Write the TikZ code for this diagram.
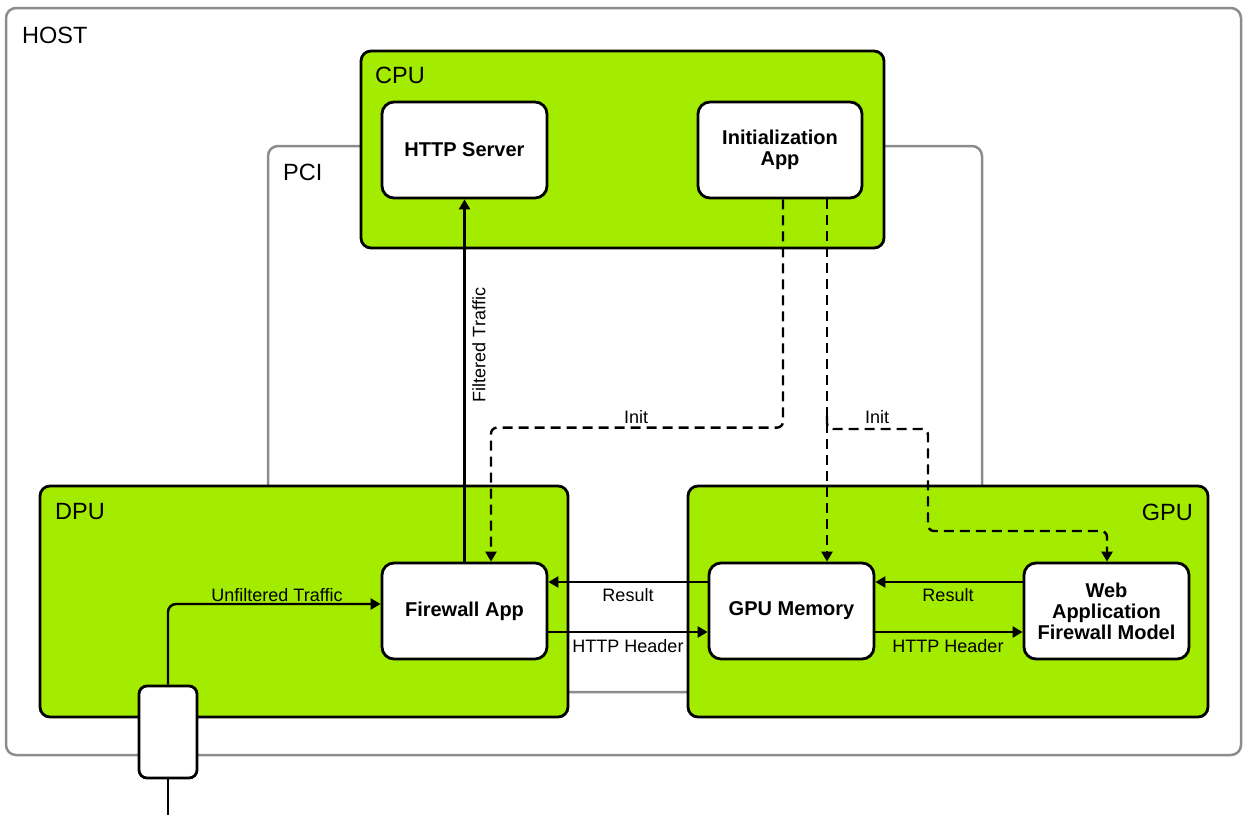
\documentclass[tikz,border=0pt]{standalone}
\usepackage{fontspec}
\setmainfont{Liberation Sans}
\usetikzlibrary{arrows.meta,calc}
\definecolor{nvgreen}{RGB}{163,236,0}
\definecolor{hostgrey}{RGB}{140,140,140}
\begin{document}
\begin{tikzpicture}[x=1pt,y=-1pt,
  container/.style={draw=black, line width=2.8pt, fill=nvgreen, rounded corners=10pt, inner sep=0pt},
  boxframe/.style={draw=hostgrey, line width=2.5pt, rounded corners=10pt, inner sep=0pt},
  block/.style={draw=black, line width=2.8pt, fill=white, rounded corners=12pt, align=center, font=\fontsize{20}{21}\selectfont\bfseries, inner sep=0pt},
  titletext/.style={font=\fontsize{23.5}{28}\selectfont, inner sep=0pt},
  lbl/.style={font=\fontsize{18}{21}\selectfont, inner sep=0pt},
  flow/.style={line width=2.4pt, -{Triangle[length=10pt,width=11pt]}},
  initflow/.style={flow, dash pattern=on 10pt off 6pt, rounded corners=6pt},
]
\useasboundingbox (0,0) rectangle (1243,815);
% frames
\node[boxframe, minimum width=1235pt, minimum height=747pt] (host) at (623.5,381.5) {};
\node[boxframe, minimum width=714pt, minimum height=546pt] (pci) at (625,419) {};
\node[container, minimum width=523pt, minimum height=197pt] (cpu) at (622.5,149.5) {};
\node[container, minimum width=528pt, minimum height=231pt] (dpu) at (304,601.5) {};
\node[container, minimum width=520pt, minimum height=231pt] (gpu) at (948,601.5) {};
% titles
\node[titletext, anchor=west] (hostlbl) at (22,35) {HOST};
\node[titletext, anchor=west] (pcilbl) at (283,172) {PCI};
\node[titletext, anchor=west] (cpulbl) at (375,75) {CPU};
\node[titletext, anchor=west] (dpulbl) at (55,512) {DPU};
\node[titletext, anchor=east] (gpulbl) at (1193,512) {GPU};
% blocks
\node[block, minimum width=165pt, minimum height=96pt] (http) at (464.5,150) {HTTP Server};
\node[block, minimum width=164pt, minimum height=96pt] (init) at (780,150) {Initialization\\App};
\node[block, minimum width=165pt, minimum height=96pt] (fw) at (464.5,611) {Firewall App};
\node[block, minimum width=165pt, minimum height=96pt] (mem) at (791.5,611) {GPU Memory};
\node[block, minimum width=165pt, minimum height=96pt] (waf) at (1106.5,611) {Web\\Application\\Firewall Model};
\node[draw=black, line width=2.8pt, fill=white, rounded corners=8pt, minimum width=58pt, minimum height=92pt, inner sep=0pt] (port) at (168,732) {};
% connectors
\coordinate (cable) at (168,815);
\draw[line width=2.4pt] (port.south) -- (cable);
\draw[flow, rounded corners=8pt] (port.north) |- ($(fw.west)+(0,-7)$);
\draw[flow] (fw.north) -- (http.south);
\draw[initflow] ($(init.south)+(3,0)$) |- ($(fw.north)+(26.5,-134)$) -- ($(fw.north)+(26.5,0)$);
\draw[initflow] ($(init.south)+(47,0)$) -- ($(mem.north)+(35.5,0)$);
\coordinate (split) at (827,416);
\draw[initflow] (split) |- ($(split)+(101,13)$) -- ($(split)+(101,115)$) -| ($(waf.north)+(0.5,0)$);
\draw[flow] ($(mem.west)+(0,-29)$) -- ($(fw.east)+(0,-29)$);
\draw[flow] ($(fw.east)+(0,21)$) -- ($(mem.west)+(0,21)$);
\draw[flow] ($(waf.west)+(0,-29)$) -- ($(mem.east)+(0,-29)$);
\draw[flow] ($(mem.east)+(0,21)$) -- ($(waf.west)+(0,21)$);
% labels
\node[lbl] (lunf) at (277,595) {Unfiltered Traffic};
\node[lbl, rotate=90] (lfil) at (479,345) {Filtered Traffic};
\node[lbl] (linit1) at (636,417) {Init};
\node[lbl] (linit2) at (877,417) {Init};
\node[lbl] (lres1) at (628,595) {Result};
\node[lbl] (lhdr1) at (628,646) {HTTP Header};
\node[lbl] (lres2) at (948,595) {Result};
\node[lbl] (lhdr2) at (948,646) {HTTP Header};
\end{tikzpicture}
\end{document}
